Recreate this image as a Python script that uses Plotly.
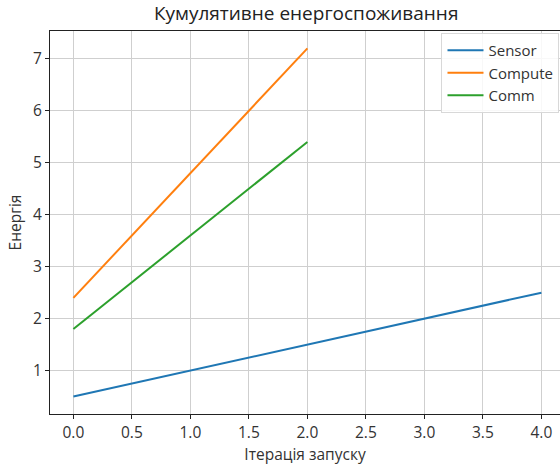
import plotly.graph_objects as go

# Cumulative energy per launch iteration for each subsystem
sensor_x = [0, 1, 2, 3, 4]
sensor_y = [0.5, 1.0, 1.5, 2.0, 2.5]
compute_x = [0, 1, 2]
compute_y = [2.4, 4.8, 7.2]
comm_x = [0, 1, 2]
comm_y = [1.8, 3.6, 5.4]

series = [
    ("Sensor", sensor_x, sensor_y, "#1f77b4"),
    ("Compute", compute_x, compute_y, "#ff7f0e"),
    ("Comm", comm_x, comm_y, "#2ca02c"),
]

x_ticks = [0.0, 0.5, 1.0, 1.5, 2.0, 2.5, 3.0, 3.5, 4.0]
y_ticks = [1, 2, 3, 4, 5, 6, 7]

fig = go.Figure()
for name, xs, ys, color in series:
    fig.add_trace(go.Scatter(x=xs, y=ys, mode="lines", name=name,
                             line=dict(color=color, width=2)))

font = "Open Sans, Noto Sans, sans-serif"
fig.update_layout(
    width=560, height=465,
    margin=dict(l=50, r=0, t=31, b=51),
    paper_bgcolor="white", plot_bgcolor="white",
    font=dict(family=font, size=15, color="#333333"),
    title=dict(text="Кумулятивне енергоспоживання", x=0.5467, xanchor="center",
               y=0.971, yanchor="middle", font=dict(size=19, color="#222222")),
    showlegend=True,
    legend=dict(x=0.999, xanchor="right", y=0.995, yanchor="top",
                bgcolor="rgba(255,255,255,0.85)", bordercolor="#d8d8d8", borderwidth=1,
                font=dict(size=15, color="#333333"), tracegroupgap=0,
                itemwidth=36),
    xaxis=dict(range=[-0.2, 4.159], tickvals=x_ticks, tickformat=".1f",
               showgrid=True, gridcolor="#cfcfcf", gridwidth=1,
               showline=True, linecolor="#222222", linewidth=1.2, mirror=True,
               ticks="outside", ticklen=4, tickcolor="#222222",
               zeroline=False, tickfont=dict(size=15.5),
               title=dict(text="Ітерація запуску", font=dict(size=15.5), standoff=3)),
    yaxis=dict(range=[0.165, 7.535], tickvals=y_ticks,
               showgrid=True, gridcolor="#cfcfcf", gridwidth=1,
               showline=True, linecolor="#222222", linewidth=1.2,
               ticks="outside", ticklen=4, tickcolor="#222222",
               zeroline=False, tickfont=dict(size=15.5),
               title=dict(text="Енергія", font=dict(size=15.5), standoff=7)),
)

fig.write_html("out.html")
